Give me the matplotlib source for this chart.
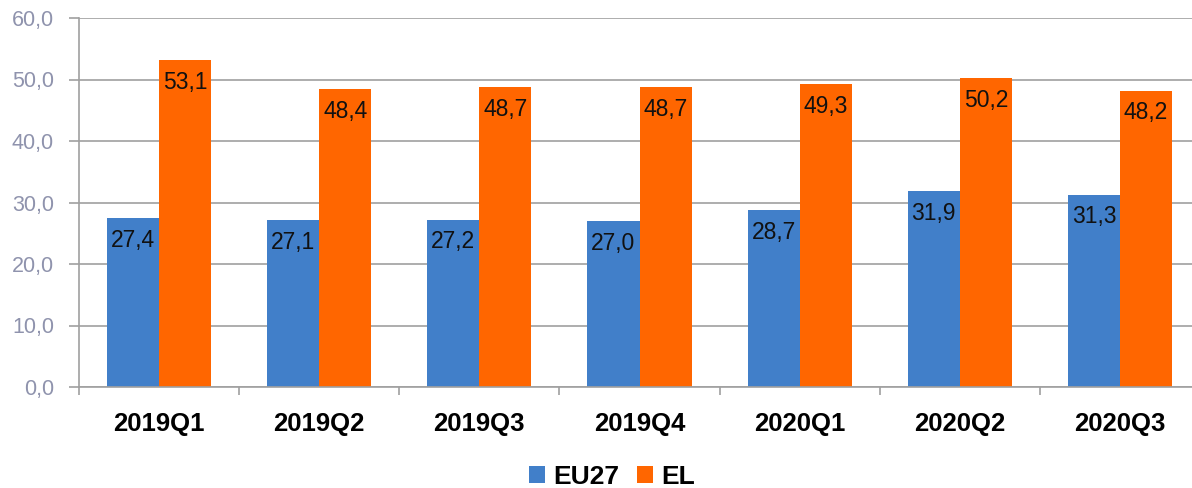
import numpy as np
import matplotlib.pyplot as plt
from matplotlib.ticker import FuncFormatter, MultipleLocator

plt.rcParams['font.family'] = ['Liberation Sans', 'DejaVu Sans']

quarters = ['2019Q1', '2019Q2', '2019Q3', '2019Q4', '2020Q1', '2020Q2', '2020Q3']
eu27 = [27.4, 27.1, 27.2, 27.0, 28.7, 31.9, 31.3]
el = [53.1, 48.4, 48.7, 48.7, 49.3, 50.2, 48.2]

blue = '#417FC9'
orange = '#FF6600'
grey = '#a0a0a0'

fig = plt.figure(figsize=(11.92, 4.88), dpi=100)
# plot area runs a bit past the right edge, like the original crop
ax = fig.add_axes([79/1192, 101/488, 1121/1192, 369/488])

x = np.arange(len(quarters))
w = 0.325
b1 = ax.bar(x - w/2, eu27, w, color=blue, label='EU27', zorder=2)
b2 = ax.bar(x + w/2, el, w, color=orange, label='EL', zorder=2)

for bars, vals in ((b1, eu27), (b2, el)):
    for r, v in zip(bars, vals):
        ax.annotate(f'{v:.1f}'.replace('.', ','), (r.get_x() + r.get_width()/2, v),
                    xytext=(0, -16), textcoords='offset points',
                    ha='center', va='center', fontsize=16.5, color='#111111', zorder=3)

ax.set_xlim(-0.5, len(quarters) - 0.5)
ax.set_ylim(0, 60)
ax.yaxis.set_major_locator(MultipleLocator(10))
ax.yaxis.set_major_formatter(FuncFormatter(lambda v, p: f'{v:.1f}'.replace('.', ',')))
ax.grid(axis='y', color=grey, linewidth=1.2, zorder=0)

ax.set_xticks(x)
ax.set_xticklabels(quarters, fontsize=18.5, fontweight='bold')
ax.set_xticks(np.arange(len(quarters) + 1) - 0.5, minor=True)
ax.tick_params(axis='x', which='major', length=0, pad=18)
ax.tick_params(axis='x', which='minor', length=6, width=1.2, color=grey, direction='out')
ax.tick_params(axis='y', length=7, width=1.2, color=grey, pad=11,
               labelsize=15.5, labelcolor='#8f93ad')

for s in ('top', 'right'):
    ax.spines[s].set_visible(False)
for s in ('left', 'bottom'):
    ax.spines[s].set_color(grey)
    ax.spines[s].set_linewidth(1.2)

fig.legend(handles=[b1, b2], loc='center', bbox_to_anchor=(612/1192, 11/488),
           ncol=2, frameon=False, prop={'size': 19, 'weight': 'bold'},
           handlelength=0.6, handleheight=0.6, handletextpad=0.3, columnspacing=0.7)

fig.savefig('out.png', dpi=100)
